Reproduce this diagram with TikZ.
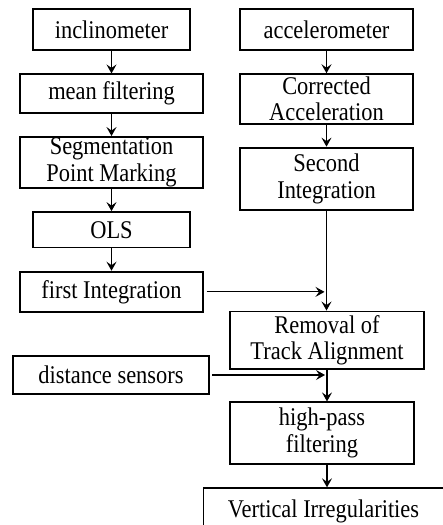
\documentclass[tikz,border=0pt]{standalone}
\usepackage{fontspec}
\setmainfont{Liberation Serif}[FakeStretch=0.88]
\usepackage{tikz}
\usetikzlibrary{chains,positioning,arrows.meta}
\tikzstyle{stage}=[draw,line width=1.9pt,align=center,inner xsep=4pt,inner ysep=1pt,font=\fontsize{25.5pt}{26.5pt}\selectfont]
\tikzstyle{flow}=[-{Stealth[length=9pt,width=10pt,inset=3.5pt]},line width=1.2pt]

\begin{document}
\begin{tikzpicture}[x=1pt,y=1pt,every join/.style={flow}]
    \useasboundingbox (0,0) rectangle (443,525);
    % inclinometer branch
    \begin{scope}[shift={(111.5,495.5)},start chain=going below,node distance=22.3pt]
        \node[stage,on chain,minimum width=157.4pt,minimum height=41.4pt] (incl) {inclinometer};
        \node[stage,on chain,join,minimum width=183.4pt,minimum height=38.4pt] (mean) {mean filtering};
        \node[stage,on chain,join,minimum width=182.4pt,minimum height=49.4pt] (seg) {Segmentation\\Point Marking};
        \node[stage,on chain,join,minimum width=157.4pt,minimum height=35.4pt] (ols) {OLS};
        \node[stage,on chain,join,minimum width=182.4pt,minimum height=40.4pt] (first) {first Integration};
    \end{scope}
    % accelerometer branch
    \begin{scope}[shift={(326.5,495.5)},start chain=going below,node distance=22.1pt]
        \node[stage,on chain,minimum width=173.4pt,minimum height=41.4pt] (acc) {accelerometer};
        \node[stage,on chain,join,minimum width=173.4pt,minimum height=49.4pt] (corr) {Corrected\\Acceleration};
        \node[stage,on chain,join,minimum width=173.4pt,minimum height=62.4pt] (second) {Second\\Integration};
    \end{scope}
    \node[stage,below=99.6pt of second,xshift=0.5pt,minimum width=194.4pt,minimum height=57.4pt] (removal) {Removal of\\Track Alignment};
    \node[stage,below=31.6pt of removal,xshift=-5pt,minimum width=184.4pt,minimum height=61.4pt] (high) {high-pass\\filtering};
    \node[stage,below=22.6pt of high,xshift=1.5pt,minimum width=240pt,minimum height=47pt] (vert) {Vertical Irregularities};
    \node[stage,minimum width=196.4pt,minimum height=38.4pt] (dist) at (111,150) {distance sensors};
    % merging lines
    \draw[flow] (second.south) -- (second.south |- removal.north);
    \draw[flow,shorten <=3pt,shorten >=2pt] (first.east) -- (first.east -| second.south);
    \draw[flow] (removal.south) -- (removal.south |- high.north);
    \draw[flow,shorten <=2pt,shorten >=2pt] (dist.east) -- (dist.east -| removal.south);
    \draw[flow] (removal.south |- high.south) -- (removal.south |- vert.north);
\end{tikzpicture}
\end{document}
